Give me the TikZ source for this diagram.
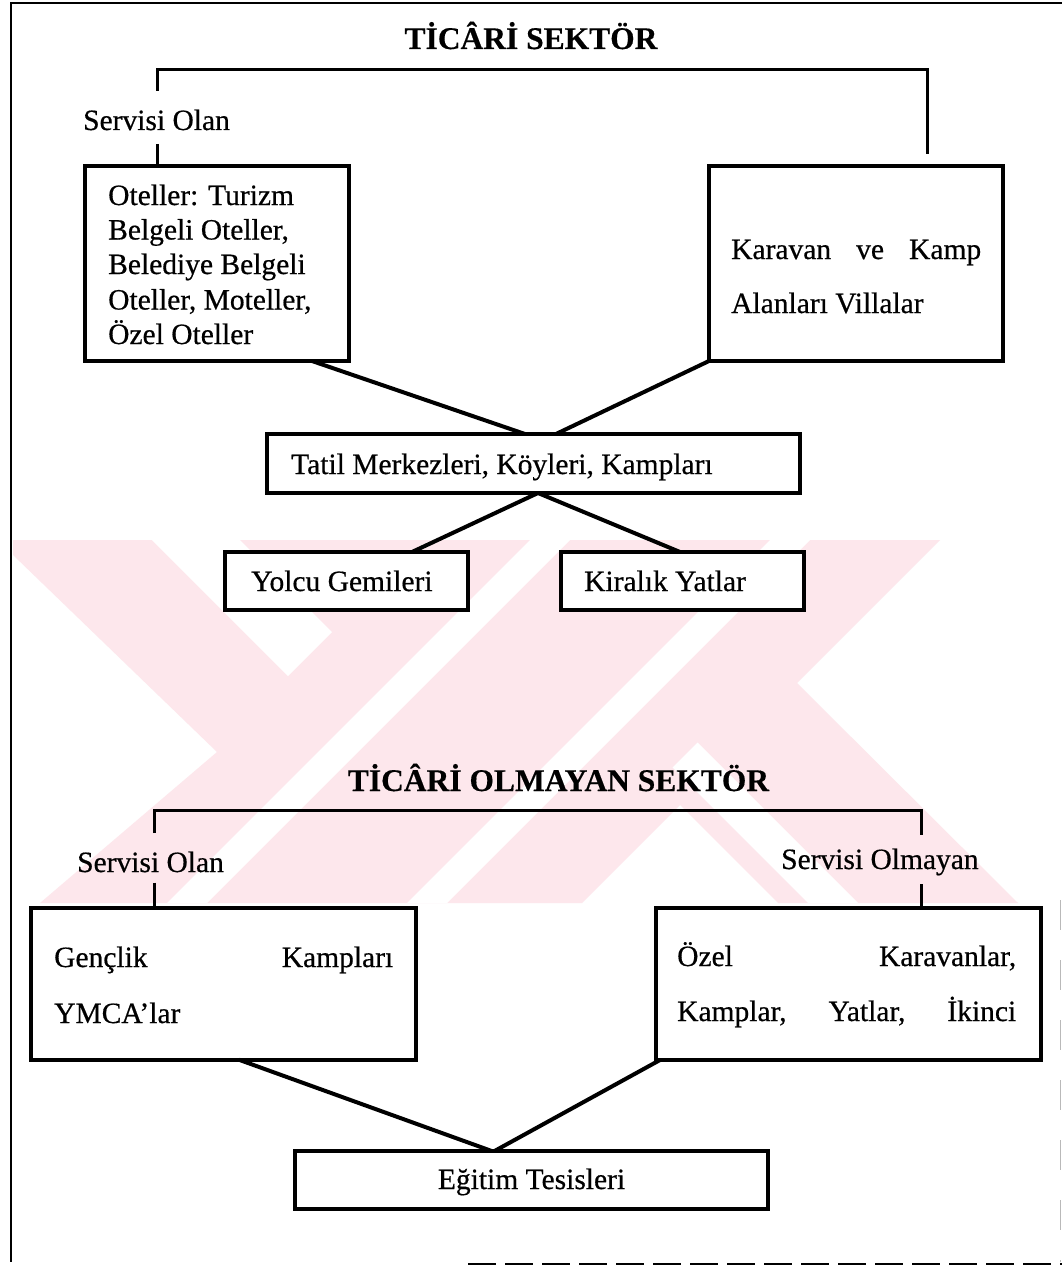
\documentclass[tikz,border=0pt]{standalone}
\usepackage{fontspec}
\setmainfont{Liberation Serif}
\newfontfamily\txtfont{Liberation Serif}[FakeBold=0.5]
\newfontfamily\ttlfont{Liberation Serif Bold}[FakeBold=0.4]
\usetikzlibrary{calc}
\definecolor{wmpink}{RGB}{253,231,236}
\begin{document}
\begin{tikzpicture}[x=1pt,y=-1pt,
  boxnode/.style={draw, fill=white, line width=3.6pt, inner sep=0pt, outer sep=0pt},
  lbl/.style={anchor=base west, inner sep=0pt, font=\txtfont\fontsize{29.5}{35}\selectfont},
  ttl/.style={anchor=base, inner sep=0pt, font=\ttlfont\fontsize{31.5}{38}\selectfont},
  conn/.style={line width=4pt},
  brk/.style={line width=3pt},
  frm/.style={line width=2pt}]
\useasboundingbox (0,0) rectangle (1062,1268);
\fill[white] (0,0) rectangle (1062,1268);

% watermark
\fill[wmpink] (13,540) -- (940,540) -- (797,683) -- (1018,903) -- (778,903) -- (680,805) -- (582,903) -- (40,903) -- (217,752) -- (13,555) -- cycle;
\fill[white] (152,540) -- (240,540) -- (332,632) -- (288,676) -- cycle;
\fill[white] (530,540) -- (570,540) -- (207,903) -- (167,903) -- cycle;
\fill[white] (770,540) -- (810,540) -- (447,903) -- (407,903) -- cycle;
\fill[white] (672.5,767.5) -- (697.5,742.5) -- (858,903) -- (808,903) -- cycle;

% page frame
\draw[frm] (1062,3) -- (10.5,3) -- (10.5,1262);
\draw[frm, dash pattern=on 28pt off 9pt] (468,1264) -- (1062,1264);
\draw[line width=1pt, gray!55, dash pattern=on 30pt off 30pt] (1060.5,900) -- (1060.5,1262);

% titles
\node[ttl] (t1) at (531,49) {TİCÂRİ SEKTÖR};
\node[ttl] (t2) at (558.5,791) {TİCÂRİ OLMAYAN SEKTÖR};

% boxes
\node[boxnode, minimum width=264pt, minimum height=195pt] (b1) at (217,263.5) {};
\node[boxnode, minimum width=294pt, minimum height=195pt] (b2) at (856,263.5) {};
\node[boxnode, minimum width=533pt, minimum height=59pt] (tatil) at (533.5,463.5) {};
\node[boxnode, minimum width=243pt, minimum height=58pt] (yolcu) at (346.5,581) {};
\node[boxnode, minimum width=243pt, minimum height=58pt] (kiralik) at (682.5,581) {};
\node[boxnode, minimum width=385pt, minimum height=151.5pt] (b3) at (223.5,984) {};
\node[boxnode, minimum width=385pt, minimum height=152pt] (b4) at (848.5,984) {};
\node[boxnode, minimum width=473pt, minimum height=58.5pt] (egitim) at (531.5,1180) {};

% texts
\node[lbl] (s1) at (83,130) {Servisi Olan};
\node[lbl] (b1l1) at (108,205) {Oteller: Turizm};
\node[lbl] (b1l2) at (108,239.5) {Belgeli Oteller,};
\node[lbl] (b1l3) at (108,274) {Belediye Belgeli};
\node[lbl] (b1l4) at (108,309.5) {Oteller, Moteller,};
\node[lbl] (b1l5) at (108,344) {Özel Oteller};
\node[lbl] (b2l1) at (731,259) {\makebox[250pt][s]{Karavan ve Kamp}};
\node[lbl] (b2l2) at (731,313) {Alanları Villalar};
\node[lbl] (tatilt) at (291,474) {Tatil Merkezleri, Köyleri, Kampları};
\node[lbl] (yolcut) at (251,591) {Yolcu Gemileri};
\node[lbl] (kiralikt) at (584,591) {Kiralık Yatlar};
\node[lbl] (s2) at (77,872) {Servisi Olan};
\node[lbl] (s3) at (781,869) {Servisi Olmayan};
\node[lbl] (b3l1) at (54,967) {\makebox[339pt][s]{Gençlik Kampları}};
\node[lbl] (b3l2) at (54,1023) {YMCA’lar};
\node[lbl] (b4l1) at (677,966) {\makebox[339pt][s]{Özel Karavanlar,}};
\node[lbl] (b4l2) at (677,1021) {\makebox[339pt][s]{Kamplar, Yatlar, İkinci}};
\node[lbl, anchor=base] (egitimt) at (531.5,1189) {Eğitim Tesisleri};

% connectors
\draw[conn] ([xshift=227pt]b1.south west) -- ([xshift=258pt]tatil.north west);
\draw[conn] (b2.south west) -- ([xshift=289pt]tatil.north west);
\draw[conn] ([xshift=271pt]tatil.south west) -- ([xshift=187pt]yolcu.north west);
\draw[conn] ([xshift=271pt]tatil.south west) -- ([xshift=119pt]kiralik.north west);
\draw[conn] ([xshift=208pt]b3.south west) -- ([xshift=196pt]egitim.north west);
\draw[conn] ([xshift=4pt]b4.south west) -- ([xshift=200pt]egitim.north west);

% bracket 1
\coordinate (k1a) at (157.5,91);
\coordinate (k1b) at (157.5,69.5);
\coordinate (k1c) at (927,69.5);
\coordinate (k1d) at (927,154);
\coordinate (k1e) at (157.5,144);
\draw[brk] (k1a) -- (k1b) -- (k1c) -- (k1d);
\draw[brk] (k1e) -- ([xshift=72.5pt]b1.north west);

% bracket 2
\coordinate (k2a) at (154,833);
\coordinate (k2b) at (154,810);
\coordinate (k2c) at (921,810);
\coordinate (k2d) at (921,835);
\coordinate (k2e) at (154,882.5);
\coordinate (k2f) at (921,884);
\draw[brk] (k2a) -- (k2b) -- (k2c) -- (k2d);
\draw[brk] (k2e) -- ([xshift=123pt]b3.north west);
\draw[brk] (k2f) -- ([xshift=265pt]b4.north west);
\end{tikzpicture}
\end{document}
